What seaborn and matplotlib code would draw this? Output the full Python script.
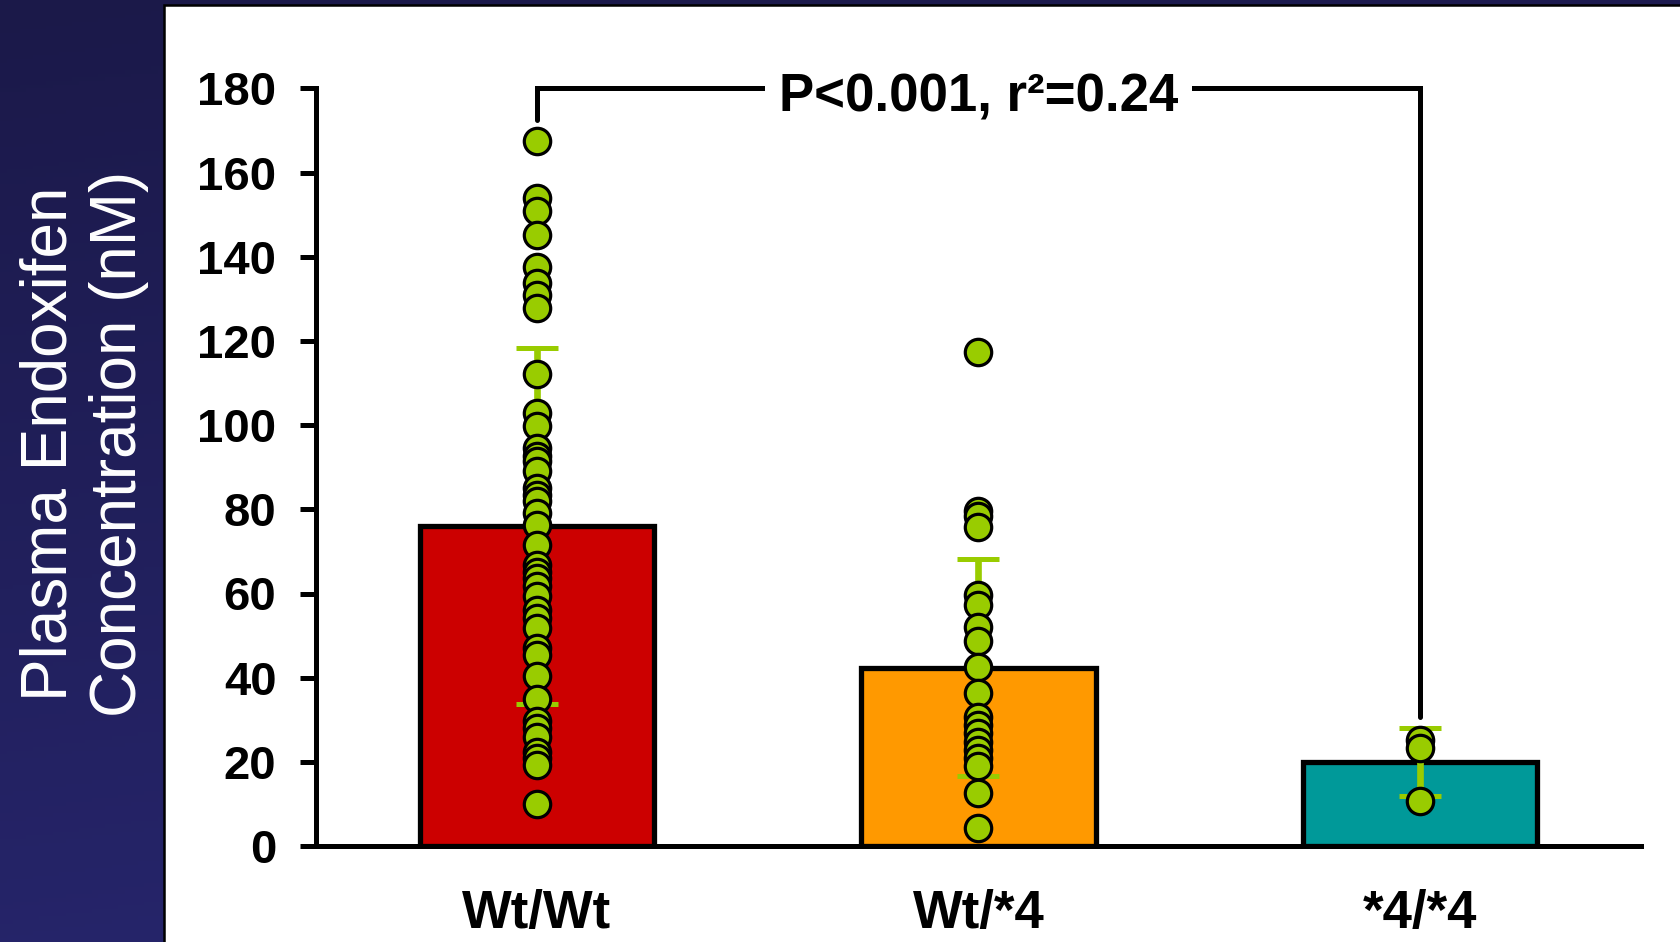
import numpy as np
import pandas as pd
import seaborn as sns
import matplotlib.pyplot as plt
from matplotlib.colors import LinearSegmentedColormap
from matplotlib.patches import Rectangle

# genotype groups, bar heights (mean) and SD
genotypes = ["Wt/Wt", "Wt/*4", "*4/*4"]
bar_means = [76.1, 42.4, 20.0]
bar_sd = [42.3, 25.7, 8.1]

# individual patients (nM)
wt_wt = [167.5, 154.0, 151.0, 145.1, 137.7, 133.8, 131.0, 127.8, 112.2, 102.9,
         99.7, 94.6, 92.6, 91.4, 89.0, 85.0, 83.5, 81.9, 79.1, 76.3,
         71.6, 66.8, 65.2, 63.6, 61.7, 59.3, 56.1, 54.1, 51.8, 47.0,
         45.4, 40.3, 34.9, 29.6, 28.0, 26.0, 22.4, 20.9, 19.3, 10.0]
wt_4 = [117.5, 79.5, 78.3, 75.9, 59.7, 57.3, 52.1, 48.6, 42.6, 36.4,
        30.7, 28.8, 26.8, 24.8, 22.8, 20.9, 18.9, 12.5, 4.2]
s4_4 = [25.2, 23.3, 10.8]

yticks = list(range(0, 181, 20))
stat_label = "P<0.001, r²=0.24"
ylabel = "Plasma Endoxifen\nConcentration (nM)"

bar_colors = ["#cc0000", "#ff9900", "#009999"]
dot_color = "#99cc00"

sns.set_style("white", {"axes.edgecolor": "black", "text.color": "black",
                        "xtick.color": "black", "ytick.color": "black",
                        "ytick.left": True})
plt.rcParams['font.family'] = ['Liberation Sans', 'DejaVu Sans']

points = pd.DataFrame({
    "genotype": ["Wt/Wt"] * len(wt_wt) + ["Wt/*4"] * len(wt_4) + ["*4/*4"] * len(s4_4),
    "conc": wt_wt + wt_4 + s4_4,
})

fig = plt.figure(figsize=(16.81, 9.42), dpi=100)

# navy slide background + white panel
bg = fig.add_axes([0, 0, 1, 1], zorder=-5)
grad = np.linspace(0, 1, 256)
grad = (grad[:, None] * 0.8 + grad[None, :] * 0.2)
navy = LinearSegmentedColormap.from_list("navy", ["#1b1949", "#282771"])
bg.imshow(grad, cmap=navy, extent=[0, 1681, 942, 0], aspect='auto')
bg.add_patch(Rectangle((164, 4.5), 1600, 1000, facecolor='white', edgecolor='black', linewidth=1.8))
bg.set_xlim(0, 1681)
bg.set_ylim(942, 0)
bg.axis('off')

ax = fig.add_axes([316 / 1681, 1 - 846 / 942, 1325 / 1681, 757.5 / 942])
ax.patch.set_alpha(0)

sns.barplot(x=genotypes, y=bar_means, hue=genotypes, palette=bar_colors, width=0.53,
            saturation=1, edgecolor='black', linewidth=3.8, errorbar=None, legend=False,
            ax=ax, zorder=2)
ax.errorbar(range(len(genotypes)), bar_means, yerr=bar_sd, fmt='none', ecolor=dot_color,
            elinewidth=4.8, capsize=14.8, capthick=3.6, zorder=3)
sns.stripplot(data=points, x="genotype", y="conc", order=genotypes, jitter=False,
              color=dot_color, size=19, linewidth=2.3, edgecolor='black', ax=ax, zorder=4)

# significance bracket
ax.plot([0, 0, 2, 2], [172.4, 180, 180, 30.7], color='black', lw=3.6,
        solid_joinstyle='miter', clip_on=False, zorder=5)
ax.text(1, 174.5, stat_label, ha='center', va='baseline', fontsize=38, fontweight='bold',
        bbox=dict(facecolor='white', edgecolor='none', pad=10), zorder=6)

ax.set_xlim(-0.5, 2.5)
ax.set_ylim(0, 180)
ax.set_yticks(yticks)
ax.set_xlabel("")
ax.set_ylabel("")
ax.spines['top'].set_visible(False)
ax.spines['right'].set_visible(False)
ax.spines['left'].set_linewidth(3.6)
ax.spines['bottom'].set_linewidth(3.6)
ax.tick_params(axis='y', left=True, direction='out', length=11.5, width=3.6, pad=17,
               labelsize=34, colors='black')
ax.tick_params(axis='x', bottom=False, length=0, pad=31, labelsize=38, colors='black')
for lab in ax.get_xticklabels() + ax.get_yticklabels():
    lab.set_fontweight('bold')

fig.text(84 / 1681, 1 - 443.5 / 942, ylabel, rotation=90, color='white', fontsize=46,
         ha='center', va='center', multialignment='center', linespacing=1.2)

fig.savefig("out.png", dpi=100)
